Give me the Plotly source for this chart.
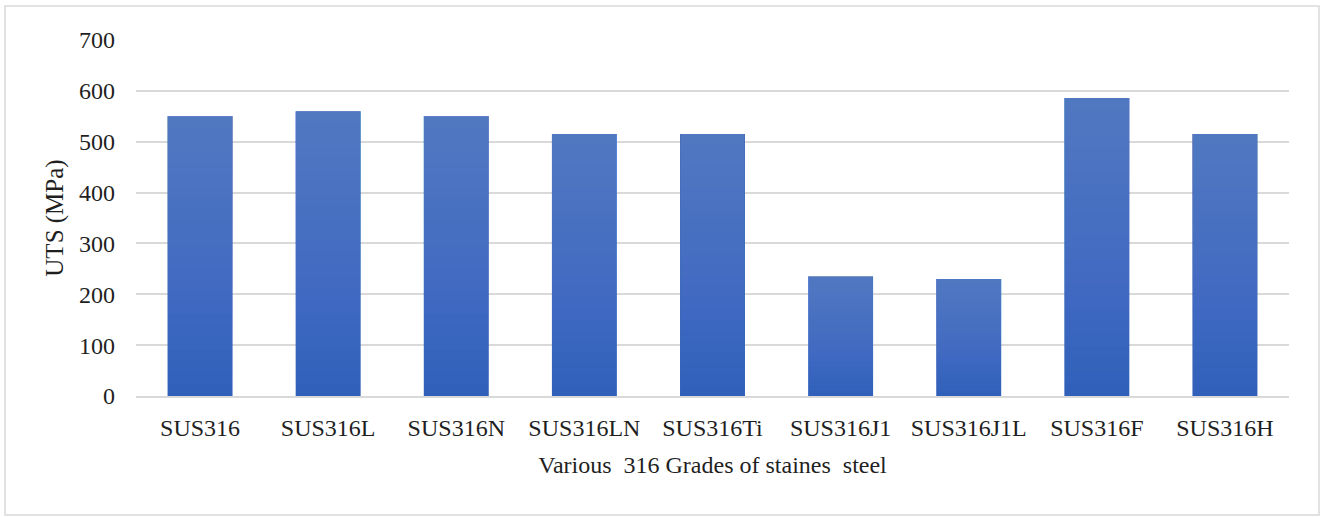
import plotly.graph_objects as go

grades = ["SUS316", "SUS316L", "SUS316N", "SUS316LN", "SUS316Ti",
          "SUS316J1", "SUS316J1L", "SUS316F", "SUS316H"]
uts_mpa = [550, 560, 550, 515, 515, 235, 230, 586, 515]
y_ticks = [0, 100, 200, 300, 400, 500, 600, 700]

FONT = "Liberation Serif, Times New Roman, serif"
TXT = "#1f1f1f"

fig = go.Figure()
# base bar (dark bottom colour)
fig.add_trace(go.Bar(x=grades, y=uts_mpa, marker=dict(color="rgb(46,94,185)", line=dict(width=0)),
                     hoverinfo="x+y"))
# translucent overlays to fake the vertical gradient (lighter toward the top)
n_layers = 24
for i in range(1, n_layers + 1):
    f = (i - 1) / n_layers
    bases = [v * f for v in uts_mpa]
    heights = [v - b for v, b in zip(uts_mpa, bases)]
    fig.add_trace(go.Bar(x=grades, y=heights, base=bases,
                         marker=dict(color="rgba(130,165,225,0.032)", line=dict(width=0)),
                         hoverinfo="skip", showlegend=False))

# pixel geometry helpers for outer frame
L, R, T, B = 136, 33, 40, 121
W, H = 1322, 517
pw, ph = W - L - R, H - T - B
def px(x): return (x - L) / pw
def py(y): return (H - B - y) / ph

fig.add_shape(type="rect", xref="paper", yref="paper",
              x0=px(5), x1=px(1319), y0=py(515), y1=py(6),
              line=dict(color="#d9d9d9", width=1.5), fillcolor="rgba(0,0,0,0)", layer="below")

fig.update_layout(
    width=W, height=H,
    margin=dict(l=L, r=R, t=T, b=B),
    barmode="overlay", bargap=0.493,
    showlegend=False,
    plot_bgcolor="white", paper_bgcolor="white",
    font=dict(family=FONT, size=24, color=TXT),
    xaxis=dict(
        title=dict(text="Various\u00a0\u00a0316 Grades of staines\u00a0 steel",
                   font=dict(family=FONT, size=24, color=TXT), standoff=17),
        tickfont=dict(family=FONT, size=24, color=TXT),
        showline=True, linecolor="#d9d9d9", linewidth=1.5,
        ticks="", ticklabelstandoff=9,
    ),
    yaxis=dict(
        title=dict(text="UTS (MPa)", font=dict(family=FONT, size=25, color=TXT), standoff=8),
        range=[0, 700], tickvals=y_ticks,
        tickfont=dict(family=FONT, size=24, color=TXT),
        showgrid=True, gridcolor="#d9d9d9", gridwidth=1.5,
        zeroline=False, showline=False, ticks="", ticklabelstandoff=20,
    ),
)

fig.write_html("out.html")
